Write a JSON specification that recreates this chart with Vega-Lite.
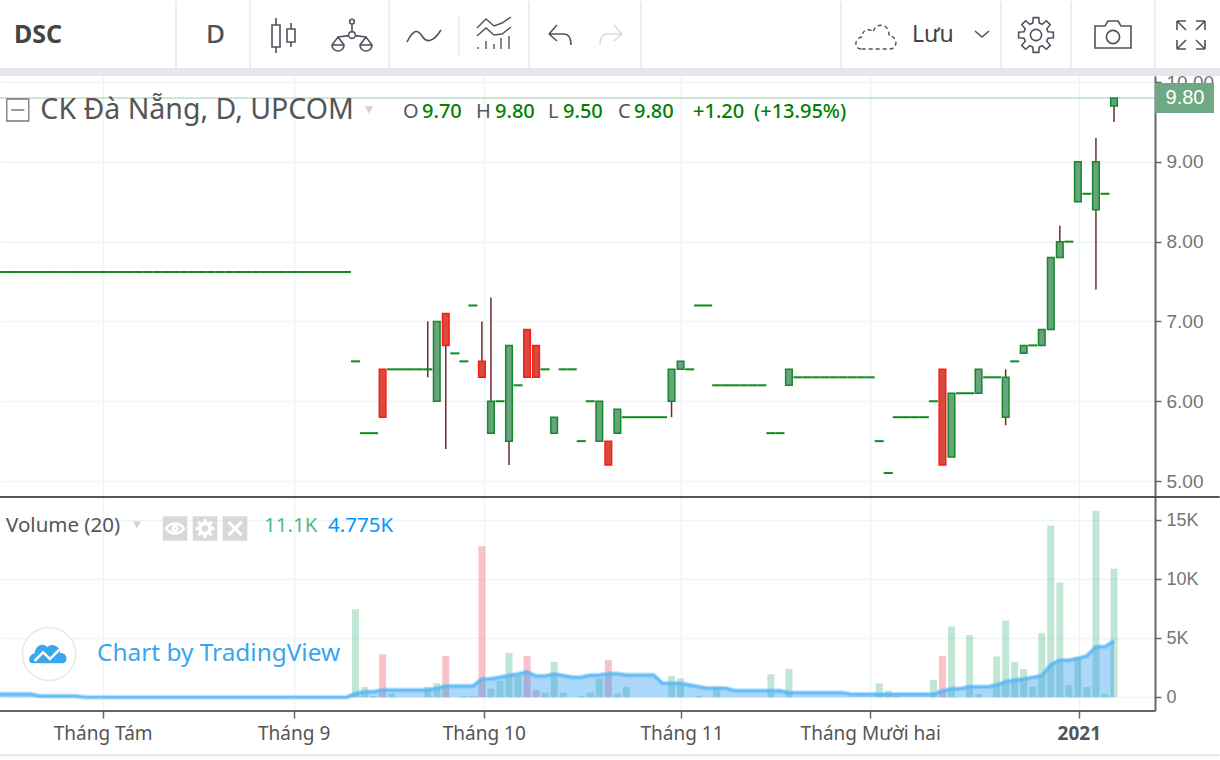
{"$schema":"https://vega.github.io/schema/vega-lite/v6.json","padding":0,"background":"white","spacing":0,"bounds":"flush","resolve":{"scale":{"fill":"independent","stroke":"independent"}},"config":{"view":{"stroke":null},"font":"Noto Sans"},
"datasets":{"bars":[
{"t":-124,"o":7.62,"c":7.62,"d":"u","m":280},{"t":-123,"o":7.62,"c":7.62,"d":"u","m":280},{"t":-122,"o":7.62,"c":7.62,"d":"u","m":280},{"t":-121,"o":7.62,"c":7.62,"d":"u","m":280},{"t":-120,"o":7.62,"c":7.62,"d":"u","m":280},{"t":-119,"o":7.62,"c":7.62,"d":"u","m":110},{"t":-118,"o":7.62,"c":7.62,"d":"u","m":110},{"t":-117,"o":7.62,"c":7.62,"d":"u","m":110},{"t":-116,"o":7.62,"c":7.62,"d":"u","m":110},{"t":-115,"o":7.62,"c":7.62,"d":"u","m":110},{"t":-114,"o":7.62,"c":7.62,"d":"u","m":10},{"t":-113,"o":7.62,"c":7.62,"d":"u","m":10},{"t":-112,"o":7.62,"c":7.62,"d":"u","m":10},{"t":-111,"o":7.62,"c":7.62,"d":"u","m":10},{"t":-110,"o":7.62,"c":7.62,"d":"u","m":10},{"t":-109,"o":7.62,"c":7.62,"d":"u","m":10},{"t":-108,"o":7.62,"c":7.62,"d":"u","m":10},{"t":-107,"o":7.62,"c":7.62,"d":"u","m":10},{"t":-106,"o":7.62,"c":7.62,"d":"u","m":10},{"t":-105,"o":7.62,"c":7.62,"d":"u","m":10},{"t":-104,"o":7.62,"c":7.62,"d":"u","m":10},{"t":-103,"o":7.62,"c":7.62,"d":"u","m":10},{"t":-102,"o":7.62,"c":7.62,"d":"u","m":10},{"t":-101,"o":7.62,"c":7.62,"d":"u","m":10},{"t":-100,"o":7.62,"c":7.62,"d":"u","m":10},{"t":-99,"o":7.62,"c":7.62,"d":"u","m":10},{"t":-98,"o":7.62,"c":7.62,"d":"u","m":10},{"t":-97,"o":7.62,"c":7.62,"d":"u","m":10},{"t":-96,"o":7.62,"c":7.62,"d":"u","m":10},{"t":-95,"o":7.62,"c":7.62,"d":"u","m":10},{"t":-94,"o":7.62,"c":7.62,"d":"u","m":10},{"t":-93,"o":7.62,"c":7.62,"d":"u","m":10},{"t":-92,"o":7.62,"c":7.62,"d":"u","m":10},{"t":-91,"o":7.62,"c":7.62,"d":"u","m":10},{"t":-90,"o":7.62,"c":7.62,"d":"u","m":10},{"t":-89,"o":7.62,"c":7.62,"d":"u","m":10},{"t":-88,"o":7.62,"c":7.62,"d":"u","m":10},{"t":-87,"o":7.62,"c":7.62,"d":"u","m":10},{"t":-86,"o":7.62,"c":7.62,"d":"u","m":10},{"t":-85,"o":7.62,"c":7.62,"d":"u","m":10},
{"t":-84,"o":6.5,"c":6.5,"d":"u","v":7460,"m":300},{"t":-83,"o":5.6,"c":5.6,"d":"u","v":880,"m":480},{"t":-82,"o":5.6,"c":5.6,"d":"u","v":100,"m":480},{"t":-81,"o":6.4,"c":5.8,"d":"r","v":3640,"m":620},{"t":-80,"o":6.4,"c":6.4,"d":"u","v":300,"m":620},{"t":-79,"o":6.4,"c":6.4,"d":"u","m":620},{"t":-78,"o":6.4,"c":6.4,"d":"u","m":620},{"t":-77,"o":6.4,"c":6.4,"d":"u","m":620},{"t":-76,"o":6.4,"c":6.4,"h":7,"l":6.3,"d":"u","v":880,"m":620},{"t":-75,"o":6,"c":7,"d":"u","v":1200,"m":760},{"t":-74,"o":7.1,"c":6.7,"h":7.1,"l":5.4,"d":"r","v":3500,"m":960},{"t":-73,"o":6.6,"c":6.6,"d":"u","m":960},{"t":-72,"o":6.5,"c":6.5,"d":"u","v":100,"m":960},{"t":-71,"o":7.2,"c":7.2,"d":"u","v":100,"m":960},{"t":-70,"o":6.5,"c":6.3,"h":7,"l":6.3,"d":"r","v":12800,"m":1550},{"t":-69,"o":5.6,"c":6,"h":7.3,"l":5.6,"d":"u","v":730,"m":1580},{"t":-68,"o":6,"c":6,"d":"u","v":1400,"m":1700},{"t":-67,"o":5.5,"c":6.7,"h":6.7,"l":5.2,"d":"u","v":3750,"m":1840},{"t":-66,"o":6.2,"c":6.2,"d":"u","v":1850,"m":1980},{"t":-65,"o":6.9,"c":6.3,"d":"r","v":3500,"m":2150},{"t":-64,"o":6.7,"c":6.3,"d":"r","v":600,"m":1800},{"t":-63,"o":6.4,"c":6.4,"d":"u","v":400,"m":1800},{"t":-62,"o":5.6,"c":5.8,"d":"u","v":3000,"m":1980},{"t":-61,"o":6.4,"c":6.4,"d":"u","v":400,"m":1840},{"t":-60,"o":6.4,"c":6.4,"d":"u","m":1700},{"t":-59,"o":5.5,"c":5.5,"d":"u","v":100,"m":1700},{"t":-58,"o":6,"c":6,"d":"u","v":400,"m":1860},{"t":-57,"o":5.5,"c":6,"d":"u","v":1600,"m":1890},{"t":-56,"o":5.5,"c":5.2,"d":"r","v":3160,"m":2000},{"t":-55,"o":5.6,"c":5.9,"d":"u","v":300,"m":2000},{"t":-54,"o":5.8,"c":5.8,"d":"u","v":880,"m":1890},{"t":-53,"o":5.8,"c":5.8,"d":"u","m":1890},{"t":-52,"o":5.8,"c":5.8,"d":"u","m":1890},{"t":-51,"o":5.8,"c":5.8,"d":"u","m":1890},{"t":-50,"o":5.8,"c":5.8,"d":"u","m":1190},{"t":-49,"o":6,"c":6.4,"h":6.4,"l":5.8,"d":"u","v":1800,"m":1190},{"t":-48,"o":6.4,"c":6.5,"d":"u","v":1600,"m":1180},{"t":-47,"o":6.4,"c":6.4,"d":"u","m":1040},{"t":-46,"o":7.2,"c":7.2,"d":"u","v":100,"m":900},{"t":-45,"o":7.2,"c":7.2,"d":"u","m":760},{"t":-44,"o":6.2,"c":6.2,"d":"u","v":900,"m":760},{"t":-43,"o":6.2,"c":6.2,"d":"u","m":760},{"t":-42,"o":6.2,"c":6.2,"d":"u","m":560},{"t":-41,"o":6.2,"c":6.2,"d":"u","m":560},{"t":-40,"o":6.2,"c":6.2,"d":"u","m":560},{"t":-39,"o":6.2,"c":6.2,"d":"u","m":560},{"t":-38,"o":5.6,"c":5.6,"d":"u","v":1950,"m":560},{"t":-37,"o":5.6,"c":5.6,"d":"u","m":560},{"t":-36,"o":6.2,"c":6.4,"d":"u","v":2400,"m":390},{"t":-35,"o":6.3,"c":6.3,"d":"u","m":390},{"t":-34,"o":6.3,"c":6.3,"d":"u","m":390},{"t":-33,"o":6.3,"c":6.3,"d":"u","m":390},{"t":-32,"o":6.3,"c":6.3,"d":"u","m":390},{"t":-31,"o":6.3,"c":6.3,"d":"u","m":390},{"t":-30,"o":6.3,"c":6.3,"d":"u","m":390},{"t":-29,"o":6.3,"c":6.3,"d":"u","m":250},{"t":-28,"o":6.3,"c":6.3,"d":"u","m":250},{"t":-27,"o":6.3,"c":6.3,"d":"u","m":250},{"t":-26,"o":5.5,"c":5.5,"d":"u","v":1180,"m":250},{"t":-25,"o":5.1,"c":5.1,"d":"u","v":560,"m":250},{"t":-24,"o":5.8,"c":5.8,"d":"u","v":100,"m":250},{"t":-23,"o":5.8,"c":5.8,"d":"u","m":250},{"t":-22,"o":5.8,"c":5.8,"d":"u","m":250},{"t":-21,"o":5.8,"c":5.8,"d":"u","m":250},{"t":-20,"o":6,"c":6,"d":"u","v":1460,"m":250},{"t":-19,"o":6.4,"c":5.2,"d":"r","v":3500,"m":540},{"t":-18,"o":5.3,"c":6.1,"d":"u","v":6000,"m":730},{"t":-17,"o":6.1,"c":6.1,"d":"u","m":730},{"t":-16,"o":6.1,"c":6.1,"d":"u","v":5270,"m":900},{"t":-15,"o":6.1,"c":6.4,"d":"u","v":280,"m":900},{"t":-14,"o":6.3,"c":6.3,"d":"u","m":900},{"t":-13,"o":6.3,"c":6.3,"d":"u","v":3460,"m":1040},{"t":-12,"o":5.8,"c":6.3,"h":6.4,"l":5.7,"d":"u","v":6500,"m":1320},{"t":-11,"o":6.5,"c":6.5,"d":"u","v":3000,"m":1460},{"t":-10,"o":6.6,"c":6.7,"d":"u","v":2400,"m":1550},{"t":-9,"o":6.7,"c":6.7,"d":"u","v":900,"m":1690},{"t":-8,"o":6.7,"c":6.9,"d":"u","v":5440,"m":1830},{"t":-7,"o":6.9,"c":7.8,"d":"u","v":14560,"m":2760},{"t":-6,"o":7.8,"c":8,"h":8.2,"l":7.8,"d":"u","v":9720,"m":3150},{"t":-5,"o":8,"c":8,"d":"u","v":1040,"m":3150},{"t":-4,"o":8.5,"c":9,"d":"u","v":3400,"m":3300},{"t":-3,"o":8.6,"c":8.6,"d":"u","v":870,"m":3500},{"t":-2,"o":8.4,"c":9,"h":9.3,"l":7.4,"d":"u","v":15800,"m":4280},{"t":-1,"o":8.6,"c":8.6,"d":"u","v":280,"m":4280},{"t":0,"o":9.7,"c":9.8,"h":9.8,"l":9.5,"d":"u","v":10900,"m":4775}
]},
"vconcat":[
{"width":1220,"height":76,
"encoding":{"x":{"field":"x","type":"quantitative","scale":{"domain":[0,1220],"nice":false,"zero":false},"axis":null},"y":{"field":"y","type":"quantitative","scale":{"domain":[76,0],"nice":false,"zero":false},"axis":null}},
"layer":[
{"data":{"values":[{"x":0,"x2":1220,"y":68,"y2":76}]},"mark":{"type":"rect","color":"#e4e8ec"},"encoding":{"x2":{"field":"x2"},"y2":{"field":"y2"}}},
{"data":{"values":[{"x":176,"y":1,"y2":68},{"x":250,"y":1,"y2":68},{"x":389,"y":1,"y2":68},{"x":529,"y":1,"y2":68},{"x":641,"y":1,"y2":68},{"x":841,"y":1,"y2":68},{"x":1001,"y":1,"y2":68},{"x":1071,"y":1,"y2":68},{"x":1155,"y":1,"y2":68},{"x":459,"y":15,"y2":55}]},"mark":{"type":"rule","color":"#e6e9ec","strokeWidth":1.5},"encoding":{"y2":{"field":"y2"}}},
{"data":{"values":[{"x":14,"y":35,"s":"DSC"}]},"mark":{"type":"text","align":"left","baseline":"middle","fontSize":25,"fontWeight":"bold","color":"#444444","font":"Noto Sans"},"encoding":{"text":{"field":"s"}}},
{"data":{"values":[{"x":206,"y":35,"s":"D"}]},"mark":{"type":"text","align":"left","baseline":"middle","fontSize":26,"fontWeight":500,"color":"#4a4f5a"},"encoding":{"text":{"field":"s"}}},
{"data":{"values":[{"x":912,"y":35,"s":"Lưu"}]},"mark":{"type":"text","align":"left","baseline":"middle","fontSize":23,"color":"#444444"},"encoding":{"text":{"field":"s"}}},
{"data":{"values":[{"x":285,"y":35}]},"mark":{"type":"point","opacity":1,"size":1600,"color":"#50535e","strokeWidth":1.6,"filled":false,"shape":"M-0.45,-0.85V-0.5M-0.65,-0.5H-0.25V0.6H-0.65ZM-0.45,0.6V0.9M0.3,-0.6V-0.3M0.1,-0.3H0.5V0.35H0.1ZM0.3,0.35V0.6"}},
{"data":{"values":[{"x":352,"y":36}]},"mark":{"type":"point","opacity":1,"size":1600,"color":"#50535e","strokeWidth":1.6,"filled":false,"shape":"M-0.12,-0.72A0.12,0.12 0 1 1 0.12,-0.72A0.12,0.12 0 1 1 -0.12,-0.72ZM0,-0.6V-0.22M-0.17,-0.05A0.17,0.17 0 1 1 0.17,-0.05A0.17,0.17 0 1 1 -0.17,-0.05ZM-0.17,-0.02L-0.7,0.05M0.17,-0.02L0.7,0.05M-1,0.45H-0.4A0.3,0.3 0 0 1 -1,0.45ZM-1,0.45L-0.7,0.05L-0.4,0.45M1,0.45H0.4A0.3,0.3 0 0 0 1,0.45ZM1,0.45L0.7,0.05L0.4,0.45"}},
{"data":{"values":[{"x":424,"y":36}]},"mark":{"type":"point","opacity":1,"size":1600,"color":"#50535e","strokeWidth":1.6,"filled":false,"shape":"M-0.85,0.3C-0.5,-0.4 -0.3,-0.3 -0.1,0C0.1,0.3 0.4,0.4 0.85,-0.3"}},
{"data":{"values":[{"x":494,"y":34}]},"mark":{"type":"point","opacity":1,"size":1600,"color":"#50535e","strokeWidth":1.4,"filled":false,"shape":"M-0.85,-0.3L-0.4,-0.75L0,-0.4L0.4,-0.55L0.85,-0.85M-0.85,0.1L-0.4,-0.3L0,0.05L0.4,0L0.85,-0.35M-0.8,0.75V0.65M-0.4,0.75V0.35M0,0.75V0.5M0.35,0.75V0.2M0.75,0.75V0.1"}},
{"data":{"values":[{"x":560,"y":35}]},"mark":{"type":"point","opacity":1,"size":1600,"color":"#50535e","strokeWidth":1.6,"filled":false,"shape":"M-0.55,-0.05L-0.15,-0.5M-0.55,-0.05L-0.15,0.3M-0.55,-0.05H0.2C0.5,-0.05 0.55,0.2 0.55,0.5"}},
{"data":{"values":[{"x":611,"y":35}]},"mark":{"type":"point","opacity":1,"size":1600,"color":"#d8dadd","strokeWidth":1.6,"filled":false,"shape":"M0.55,-0.05L0.15,-0.5M0.55,-0.05L0.15,0.3M0.55,-0.05H-0.2C-0.5,-0.05 -0.55,0.2 -0.55,0.5"}},
{"data":{"values":[{"x":876,"y":36}]},"mark":{"type":"point","opacity":1,"size":1600,"color":"#50535e","strokeWidth":1.4,"strokeDash":[4,3],"filled":false,"shape":"M-0.75,0.65C-1.1,0.65 -1.1,0.1 -0.7,0.05C-0.7,-0.35 -0.3,-0.4 -0.15,-0.2C0,-0.75 0.7,-0.6 0.65,0C1.1,0 1.1,0.65 0.7,0.65Z"}},
{"data":{"values":[{"x":982,"y":34}]},"mark":{"type":"point","opacity":1,"size":1600,"color":"#50535e","strokeWidth":1.6,"filled":false,"shape":"M-0.35,-0.15L0,0.15L0.35,-0.15"}},
{"data":{"values":[{"x":1036,"y":35}]},"mark":{"type":"point","opacity":1,"size":1600,"color":"#50535e","strokeWidth":1.6,"filled":false,"shape":"M-0.28,0A0.28,0.28 0 1 1 0.28,0A0.28,0.28 0 1 1 -0.28,0ZM-0.16,-0.6L-0.138,-0.869L0.138,-0.869L0.16,-0.6L0.31,-0.537L0.517,-0.712L0.712,-0.517L0.537,-0.31L0.6,-0.16L0.869,-0.138L0.869,0.138L0.6,0.16L0.537,0.31L0.712,0.517L0.517,0.712L0.31,0.537L0.16,0.6L0.138,0.869L-0.138,0.869L-0.16,0.6L-0.31,0.537L-0.517,0.712L-0.712,0.517L-0.537,0.31L-0.6,0.16L-0.869,0.138L-0.869,-0.138L-0.6,-0.16L-0.537,-0.31L-0.712,-0.517L-0.517,-0.712L-0.31,-0.537Z"}},
{"data":{"values":[{"x":1113,"y":35}]},"mark":{"type":"point","opacity":1,"size":1600,"color":"#50535e","strokeWidth":1.6,"filled":false,"shape":"M-0.9,-0.45H-0.4L-0.25,-0.7H0.25L0.4,-0.45H0.9V0.65H-0.9ZM-0.33,0.1A0.33,0.33 0 1 1 0.33,0.1A0.33,0.33 0 1 1 -0.33,0.1Z"}},
{"data":{"values":[{"x":1191,"y":35}]},"mark":{"type":"point","opacity":1,"size":1600,"color":"#50535e","strokeWidth":1.6,"filled":false,"shape":"M-0.25,-0.25L-0.7,-0.7M-0.7,-0.7H-0.25M-0.7,-0.7V-0.25M0.25,-0.25L0.7,-0.7M0.7,-0.7H0.25M0.7,-0.7V-0.25M-0.25,0.25L-0.7,0.7M-0.7,0.7H-0.25M-0.7,0.7V0.25M0.25,0.25L0.7,0.7M0.7,0.7H0.25M0.7,0.7V0.25"}}
]},
{"width":1155,"height":421,
"encoding":{"x":{"field":"t","type":"quantitative","scale":{"domain":[-123.37,4.54],"nice":false,"zero":false,"padding":0},"axis":{"values":[-112,-90.85,-69.8,-47.9,-27,-3.9],"labels":false,"ticks":false,"domain":false,"title":null,"grid":true,"gridColor":"#eef3f8","gridWidth":1.5}}},
"layer":[
{"data":{"name":"bars"},"transform":[{"filter":"isValid(datum.h)"}],"mark":{"type":"rule","color":"#6e2b2b","strokeWidth":1.5,"clip":true},"encoding":{"y":{"field":"l","type":"quantitative","scale":{"domain":[4.8,10.076],"nice":false,"zero":false},"axis":{"orient":"right","values":[5,6,7,8,9,10],"format":".2f","title":null,"grid":true,"gridColor":"#eef3f8","gridWidth":1.5,"domain":true,"domainColor":"#666666","domainWidth":2,"tickColor":"#666666","tickSize":6,"tickWidth":1.5,"labelColor":"#757575","labelFont":"Liberation Sans","labelFontSize":19,"labelPadding":5}},"y2":{"field":"h"}}},
{"data":{"name":"bars"},"transform":[{"filter":"datum.o==datum.c"}],"mark":{"type":"tick","orient":"horizontal","size":9,"thickness":2,"color":"#0e8a1c","opacity":1,"clip":true},"encoding":{"y":{"field":"o","type":"quantitative"}}},
{"data":{"name":"bars"},"transform":[{"filter":"datum.o!=datum.c"}],"mark":{"type":"bar","size":6.6,"strokeWidth":1.5,"clip":true},"encoding":{"y":{"field":"o","type":"quantitative"},"y2":{"field":"c"},"fill":{"field":"d","type":"nominal","legend":null,"scale":{"domain":["u","r"],"range":["#67a47d","#d94a3d"]}},"stroke":{"field":"d","type":"nominal","legend":null,"scale":{"domain":["u","r"],"range":["#14892a","#ff1a1a"]}}}},
{"data":{"values":[{"t":-123.3,"t2":4.54,"p":9.8}]},"mark":{"type":"rule","color":"#2e9b5a","strokeWidth":1,"strokeDash":[1,1]},"encoding":{"x2":{"field":"t2"},"y":{"field":"p","type":"quantitative"}}},
{"data":{"values":[{"t":4.54,"t2":11.07,"p":9.988,"p2":9.612}]},"mark":{"type":"rect","color":"#6ea884"},"encoding":{"x2":{"field":"t2"},"y":{"field":"p","type":"quantitative"},"y2":{"field":"p2"}}},
{"data":{"values":[{"t":7.86,"p":9.8,"s":"9.80"}]},"mark":{"type":"text","color":"white","fontSize":20,"font":"Liberation Sans","align":"center","baseline":"middle"},"encoding":{"y":{"field":"p","type":"quantitative"},"text":{"field":"s"}}},
{"data":{"values":[{"t":-121.4,"p":9.65}]},"mark":{"type":"point","opacity":1,"size":484,"color":"#777777","strokeWidth":1.3,"filled":false,"shape":"M-1,-1H1V1H-1ZM-0.6,0H0.6"},"encoding":{"y":{"field":"p","type":"quantitative"}}},
{"data":{"values":[{"t":-118.9,"p":9.65,"s":"CK Đà Nẵng, D, UPCOM"}]},"mark":{"type":"text","align":"left","baseline":"middle","fontSize":28.5,"color":"#555555"},"encoding":{"y":{"field":"p","type":"quantitative"},"text":{"field":"s"}}},
{"data":{"values":[{"t":-82.5,"p":9.65}]},"mark":{"type":"point","shape":"triangle-down","opacity":1,"filled":true,"size":70,"color":"#d0d0d0"},"encoding":{"y":{"field":"p","type":"quantitative"}}},
{"data":{"values":[{"t":-78.74,"p":9.625,"s":"O"},{"t":-70.65,"p":9.625,"s":"H"},{"t":-62.68,"p":9.625,"s":"L"},{"t":-54.93,"p":9.625,"s":"C"}]},"mark":{"type":"text","align":"left","baseline":"middle","fontSize":20,"color":"#555555"},"encoding":{"y":{"field":"p","type":"quantitative"},"text":{"field":"s"}}},
{"data":{"values":[{"t":-76.63,"p":9.625,"s":"9.70"},{"t":-68.55,"p":9.625,"s":"9.80"},{"t":-61.02,"p":9.625,"s":"9.50"},{"t":-53.16,"p":9.625,"s":"9.80"},{"t":-46.62,"p":9.625,"s":"+1.20"},{"t":-39.87,"p":9.625,"s":"(+13.95%)"}]},"mark":{"type":"text","align":"left","baseline":"middle","fontSize":20,"fontWeight":500,"color":"#008000"},"encoding":{"y":{"field":"p","type":"quantitative"},"text":{"field":"s"}}}
]},
{"width":1155,"height":214,
"encoding":{"x":{"field":"t","type":"quantitative","scale":{"domain":[-123.37,4.54],"nice":false,"zero":false,"padding":0},"axis":{"orient":"bottom","values":[-112,-90.85,-69.8,-47.9,-27,-3.9],"labelExpr":"{'-112':'Tháng Tám','-90.85':'Tháng 9','-69.8':'Tháng 10','-47.9':'Tháng 11','-27':'Tháng Mười hai','-3.9':'2021'}[datum.value]","labelFontWeight":{"condition":{"test":"datum.value==-3.9","value":"bold"},"value":"normal"},"title":null,"grid":true,"gridColor":"#eef3f8","gridWidth":1.5,"domain":false,"tickColor":"#666666","tickSize":7,"tickWidth":1.5,"labelColor":"#555555","labelFontSize":19,"labelPadding":6,"labelFlush":false,"labelOverlap":false}}},
"layer":[
{"data":{"name":"bars"},"transform":[{"filter":"isValid(datum.v)"}],"mark":{"type":"bar","size":7,"opacity":0.35,"clip":true},"encoding":{"y":{"field":"v","type":"quantitative","scale":{"domain":[-1160,16970],"nice":false,"zero":false},"axis":{"orient":"right","values":[0,5000,10000,15000],"labelExpr":"datum.value==0?'0':(datum.value/1000)+'K'","title":null,"grid":true,"gridColor":"#eef3f8","gridWidth":1.5,"domain":true,"domainColor":"#666666","domainWidth":2,"tickColor":"#666666","tickSize":6,"tickWidth":1.5,"labelColor":"#757575","labelFont":"Liberation Sans","labelFontSize":18,"labelPadding":5}},"fill":{"field":"d","type":"nominal","legend":null,"scale":{"domain":["u","r"],"range":["#4bb884","#ee5162"]}}}},
{"data":{"name":"bars"},"mark":{"type":"area","color":"#2196f3","opacity":0.38,"clip":true},"encoding":{"y":{"field":"m","type":"quantitative"}}},
{"data":{"name":"bars"},"mark":{"type":"line","color":"#5ab6f8","strokeWidth":5,"opacity":0.4,"clip":true},"encoding":{"y":{"field":"m","type":"quantitative"}}},
{"data":{"name":"bars"},"mark":{"type":"line","color":"#5ab6f8","strokeWidth":2.5,"opacity":0.8,"clip":true},"encoding":{"y":{"field":"m","type":"quantitative"}}},
{"data":{"values":[{"t":-123.37,"t2":11.7,"v":17055,"v2":16885}]},"mark":{"type":"rect","color":"#555555"},"encoding":{"x2":{"field":"t2"},"y":{"field":"v","type":"quantitative"},"y2":{"field":"v2"}}},
{"data":{"values":[{"t":-123.37,"t2":4.54,"v":-1075,"v2":-1245}]},"mark":{"type":"rect","color":"#666666"},"encoding":{"x2":{"field":"t2"},"y":{"field":"v","type":"quantitative"},"y2":{"field":"v2"}}},
{"data":{"values":[{"t":-123.37,"t2":11.7,"v":-4805,"v2":-5017}]},"mark":{"type":"rect","color":"#e6e9ec"},"encoding":{"x2":{"field":"t2"},"y":{"field":"v","type":"quantitative"},"y2":{"field":"v2"}}},
{"data":{"values":[{"t":-122.7,"v":14517,"s":"Volume (20)"}]},"mark":{"type":"text","align":"left","baseline":"middle","fontSize":20.5,"color":"#555555"},"encoding":{"y":{"field":"v","type":"quantitative"},"text":{"field":"s"}}},
{"data":{"values":[{"t":-108.2,"v":14600}]},"mark":{"type":"point","shape":"triangle-down","opacity":1,"filled":true,"size":60,"color":"#d0d0d0"},"encoding":{"y":{"field":"v","type":"quantitative"}}},
{"data":{"values":[{"t":-103.99,"v":14300},{"t":-100.66,"v":14300},{"t":-97.34,"v":14300}]},"mark":{"type":"point","shape":"square","opacity":1,"filled":true,"size":600,"color":"#d8d8d8"},"encoding":{"y":{"field":"v","type":"quantitative"}}},
{"data":{"values":[{"t":-103.99,"v":14300}]},"mark":{"type":"point","opacity":1,"size":484,"color":"white","strokeWidth":2.5,"filled":false,"shape":"M-0.8,0C-0.4,-0.6 0.4,-0.6 0.8,0C0.4,0.6 -0.4,0.6 -0.8,0ZM-0.2,0A0.2,0.2 0 1 1 0.2,0A0.2,0.2 0 1 1 -0.2,0Z"},"encoding":{"y":{"field":"v","type":"quantitative"}}},
{"data":{"values":[{"t":-100.66,"v":14300}]},"mark":{"type":"point","opacity":1,"size":484,"color":"white","filled":true,"shape":"M-0.16,-0.6L-0.138,-0.869L0.138,-0.869L0.16,-0.6L0.31,-0.537L0.517,-0.712L0.712,-0.517L0.537,-0.31L0.6,-0.16L0.869,-0.138L0.869,0.138L0.6,0.16L0.537,0.31L0.712,0.517L0.517,0.712L0.31,0.537L0.16,0.6L0.138,0.869L-0.138,0.869L-0.16,0.6L-0.31,0.537L-0.517,0.712L-0.712,0.517L-0.537,0.31L-0.6,0.16L-0.869,0.138L-0.869,-0.138L-0.6,-0.16L-0.537,-0.31L-0.712,-0.517L-0.517,-0.712L-0.31,-0.537Z"},"encoding":{"y":{"field":"v","type":"quantitative"}}},
{"data":{"values":[{"t":-100.66,"v":14300}]},"mark":{"type":"point","shape":"circle","opacity":1,"filled":true,"size":40,"color":"#d8d8d8"},"encoding":{"y":{"field":"v","type":"quantitative"}}},
{"data":{"values":[{"t":-97.34,"v":14300}]},"mark":{"type":"point","opacity":1,"size":484,"color":"white","strokeWidth":3,"filled":false,"shape":"M-0.6,-0.6L0.6,0.6M-0.6,0.6L0.6,-0.6"},"encoding":{"y":{"field":"v","type":"quantitative"}}},
{"data":{"values":[{"t":-94.13,"v":14500,"s":"11.1K"}]},"mark":{"type":"text","align":"left","baseline":"middle","fontSize":20.5,"color":"#53b987"},"encoding":{"y":{"field":"v","type":"quantitative"},"text":{"field":"s"}}},
{"data":{"values":[{"t":-87.04,"v":14500,"s":"4.775K"}]},"mark":{"type":"text","align":"left","baseline":"middle","fontSize":20.5,"color":"#0496ff"},"encoding":{"y":{"field":"v","type":"quantitative"},"text":{"field":"s"}}},
{"data":{"values":[{"t":-117.94,"v":3669}]},"mark":{"type":"point","shape":"circle","opacity":1,"filled":false,"fill":"white","size":2827,"color":"#e8e8e8","strokeWidth":1.5},"encoding":{"y":{"field":"v","type":"quantitative"}}},
{"data":{"values":[{"t":-117.94,"v":3669}]},"mark":{"type":"point","opacity":1,"filled":true,"size":1156,"color":"#3aa6ee","shape":"M-0.95,0.55C-1.3,0.55 -1.2,0 -0.85,-0.05C-0.8,-0.5 -0.35,-0.7 -0.1,-0.4C0.2,-0.7 0.7,-0.4 0.65,-0.05C1.1,-0.1 1.15,0.55 0.8,0.55Z"},"encoding":{"y":{"field":"v","type":"quantitative"}}},
{"data":{"values":[{"t":-117.94,"v":3669}]},"mark":{"type":"point","opacity":1,"filled":false,"size":1156,"color":"white","strokeWidth":2.5,"shape":"M-0.85,0.4L-0.35,-0.1L0.05,0.3L0.6,-0.25"},"encoding":{"y":{"field":"v","type":"quantitative"}}},
{"data":{"values":[{"t":-112.62,"v":3669,"s":"Chart by TradingView"}]},"mark":{"type":"text","align":"left","baseline":"middle","fontSize":24.4,"color":"#38a5ee"},"encoding":{"y":{"field":"v","type":"quantitative"},"text":{"field":"s"}}}
]}
]}
